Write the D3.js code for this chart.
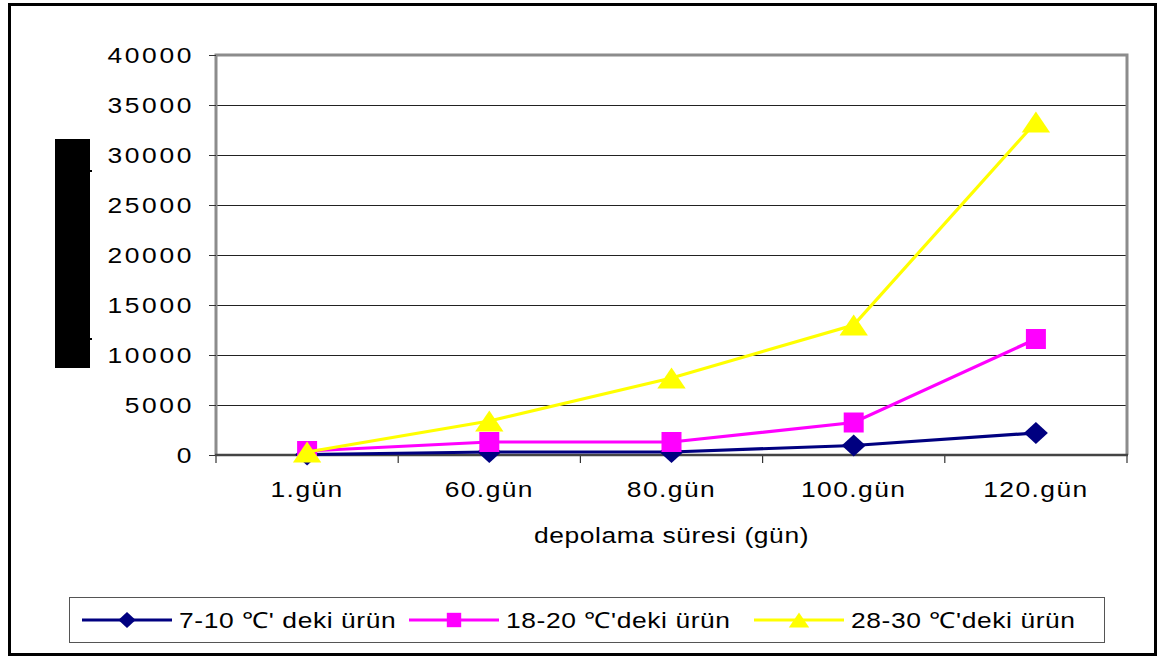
<!DOCTYPE html>
<html><head><meta charset="utf-8">
<script src="https://cdn.jsdelivr.net/npm/d3@7"></script>
<style>
html,body{margin:0;padding:0;background:#fff;}
text{font-family:"Liberation Sans",Arial,sans-serif;fill:#000;}
</style></head>
<body><svg id="chart" width="1160" height="660"></svg>
<script>
const categories = ["1.gün","60.gün","80.gün","100.gün","120.gün"];
const yTicks = [0,5000,10000,15000,20000,25000,30000,35000,40000];
const seriesNames = ["7-10 \u2103' deki ürün","18-20 \u2103'deki ürün","28-30 \u2103'deki ürün"];
const s1 = [50, 300, 300, 950, 2200];
const s2 = [400, 1300, 1300, 3250, 11600];
const s3 = [300, 3400, 7700, 13000, 33300];
const xTitle = "depolama süresi (gün)";

const svg = d3.select("#chart");
const L=216,R=1127,T=55,B=455;
const SX = 1.2;
const x = d3.scaleBand().domain(categories).range([L,R]);
const y = d3.scaleLinear().domain([0,40000]).range([B,T]);

function sText(sel, px, py, anchor, str, ls){
  return sel.append("text").attr("transform",`translate(${px},${py}) scale(${SX},1)`)
    .attr("text-anchor",anchor).attr("font-size",22).attr("letter-spacing",ls+"px").text(str);
}

// outer frame
svg.append("rect").attr("x",9.5).attr("y",4.5).attr("width",1146).attr("height",650)
  .attr("fill","#fff").attr("stroke","#000").attr("stroke-width",3);

// redaction box
svg.append("rect").attr("x",55).attr("y",139).attr("width",35).attr("height",229).attr("fill","#000");
svg.append("rect").attr("x",90).attr("y",170).attr("width",2).attr("height",2).attr("fill","#000");
svg.append("rect").attr("x",90).attr("y",338).attr("width",2).attr("height",2).attr("fill","#000");

// gridlines
svg.append("g").selectAll("line").data(yTicks.filter(v=>v>0&&v<40000)).join("line")
  .attr("x1",L).attr("x2",R).attr("y1",d=>Math.round(y(d))+0.5).attr("y2",d=>Math.round(y(d))+0.5)
  .attr("stroke","#222").attr("stroke-width",1);

// plot border (gray)
svg.append("path").attr("d",`M${L},${B} V${T} H${R} V${B}`).attr("fill","none")
  .attr("stroke","#8c8c8c").attr("stroke-width",3);

// y axis (ticks via d3 axis, labels stretched)
const yAxis = d3.axisLeft(y).tickValues(yTicks).tickSize(7).tickFormat("");
const gy = svg.append("g").attr("transform",`translate(${L},0)`).call(yAxis);
gy.select(".domain").remove();
gy.selectAll(".tick line").attr("stroke","#333").attr("stroke-width",1);
const yl = svg.append("g");
yTicks.forEach(v=>{ sText(yl, 194, y(v)+8, "end", d3.format("d")(v), 2.2); });

// x axis
const bounds = categories.map(c=>x(c)).concat([R]);
svg.append("g").selectAll("line").data(bounds).join("line")
  .attr("x1",d=>d).attr("x2",d=>d).attr("y1",B).attr("y2",B+8)
  .attr("stroke","#333").attr("stroke-width",1.2);
svg.append("line").attr("x1",L-1).attr("x2",R+1).attr("y1",B).attr("y2",B)
  .attr("stroke","#444").attr("stroke-width",2.5);
const cx = c=>x(c)+x.bandwidth()/2;
const xl = svg.append("g");
categories.forEach(c=>{ sText(xl, cx(c), 497, "middle", c, 1.2); });

// axis title
sText(svg, (L+R)/2, 543, "middle", xTitle, 0.5);

// series
const diamond = s=>`M0,${-s*0.92} L${s},0 L0,${s*0.92} L${-s},0 Z`;
const square = s=>`M${-s},${-s} H${s} V${s} H${-s} Z`;
const triangle = s=>`M0,${-s} L${s*1.35},${s} L${-s*1.35},${s} Z`;
const series = [
  {vals:s1,color:"#000080",shape:diamond,size:12},
  {vals:s2,color:"#ff00ff",shape:square,size:10},
  {vals:s3,color:"#ffff00",shape:triangle,size:10.5}
];
const line = d3.line().x((d,i)=>cx(categories[i])).y(d=>y(d));
series.forEach(s=>{
  svg.append("path").datum(s.vals).attr("d",line).attr("fill","none")
    .attr("stroke",s.color).attr("stroke-width",3.2);
  svg.append("g").selectAll("path").data(s.vals).join("path")
    .attr("transform",(d,i)=>`translate(${cx(categories[i])},${y(d)})`)
    .attr("d",s.shape(s.size)).attr("fill",s.color);
});

// legend
svg.append("rect").attr("x",69.5).attr("y",597.5).attr("width",1035).attr("height",45)
  .attr("fill","#fff").attr("stroke","#555").attr("stroke-width",1);
const legX = [82, 409, 754];
const legY = 620;
series.forEach((s,i)=>{
  const x0 = legX[i];
  svg.append("line").attr("x1",x0).attr("x2",x0+90).attr("y1",legY).attr("y2",legY)
    .attr("stroke",s.color).attr("stroke-width",3);
  svg.append("path").attr("transform",`translate(${x0+45},${legY})`).attr("d",s.shape(s.size*0.72)).attr("fill",s.color);
  sText(svg, x0+97, legY+8, "start", seriesNames[i], 0.5);
});
</script></body></html>
